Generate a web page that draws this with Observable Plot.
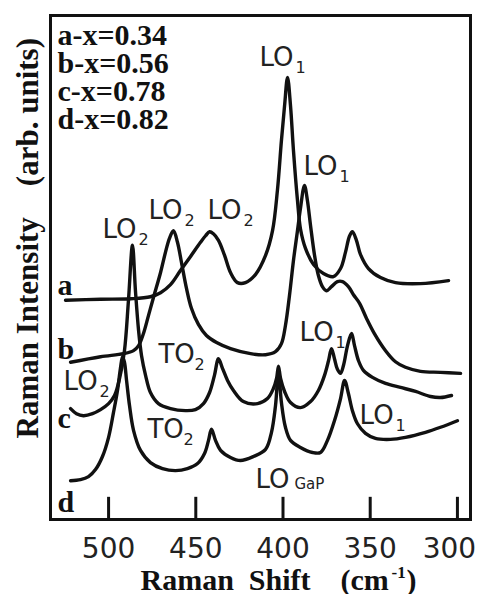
<!DOCTYPE html>
<html>
<head>
<meta charset="utf-8">
<script src="https://cdn.jsdelivr.net/npm/d3@7"></script>
<script src="https://cdn.jsdelivr.net/npm/@observablehq/plot@0.6"></script>
<style>
  html, body { margin: 0; padding: 0; background: #fff; }
  #chart { width: 482px; height: 594px; }
</style>
</head>
<body>
<div id="chart"></div>
<script>
// Raman shift (cm-1), intensity (arb. units) for each composition
const curveA = [[524.7,43.5],[504.6,43.7],[487.4,43.8],[476.0,44.2],[470.2,45.0],[464.5,46.6],[458.8,49.4],[453.0,52.2],[447.3,55.0],[444.4,56.3],[442.1,57.1],[439.9,56.7],[437.0,55.4],[433.5,52.4],[430.1,49.0],[426.1,47.0],[421.5,47.0],[415.8,48.6],[410.0,52.4],[406.0,57.3],[403.2,65.3],[400.9,75.2],[399.1,82.1],[397.4,87.7],[395.7,82.1],[394.0,73.2],[391.7,63.3],[390.0,57.7],[387.1,53.8],[382.5,50.6],[376.8,48.8],[371.1,48.2],[367.0,49.8],[364.2,53.0],[361.9,56.2],[360.2,57.1],[357.9,55.4],[355.6,52.6],[351.0,49.8],[344.1,48.0],[335.5,47.0],[321.2,46.8],[305.1,47.4]];
const curveB = [[521.8,31.2],[504.6,32.3],[491.4,32.9],[485.7,33.5],[482.8,34.5],[480.0,36.9],[477.1,40.5],[474.3,44.0],[470.2,49.0],[467.4,53.0],[465.1,55.8],[462.8,57.3],[460.5,55.0],[458.2,51.0],[455.3,45.8],[452.5,41.9],[448.5,38.7],[443.9,36.5],[438.1,35.1],[430.1,33.9],[418.6,32.9],[410.0,32.7],[404.3,33.3],[400.9,34.9],[398.6,38.5],[396.3,44.4],[394.0,51.4],[391.7,57.3],[390.0,61.7],[387.7,66.3],[386.0,63.3],[384.2,58.3],[381.9,52.4],[379.7,48.4],[377.4,46.2],[375.1,45.4],[372.2,46.2],[368.8,47.2],[365.9,47.2],[362.5,46.2],[359.6,44.6],[356.1,42.9],[352.1,39.9],[347.6,36.9],[341.2,33.5],[335.5,31.3],[329.8,30.2],[321.2,29.4],[309.7,29.2],[298.2,29.0]];
const curveC = [[521.8,22.0],[518.4,21.0],[514.4,20.6],[509.2,21.0],[504.6,21.8],[500.0,23.0],[496.6,24.6],[493.7,28.0],[490.9,33.5],[488.6,43.5],[486.3,54.4],[484.6,45.4],[482.8,37.5],[481.1,32.5],[478.8,28.6],[476.0,25.2],[471.4,23.0],[464.5,22.0],[455.9,21.6],[450.2,21.8],[445.6,23.0],[442.1,25.2],[439.3,28.6],[437.0,31.9],[434.7,30.0],[431.8,27.6],[428.4,25.6],[422.7,23.4],[414.6,23.0],[408.9,24.0],[405.5,26.0],[403.7,28.0],[402.6,30.4],[401.4,28.0],[399.1,25.4],[395.7,23.2],[390.0,22.2],[384.2,23.4],[379.7,25.6],[376.2,28.6],[373.9,31.5],[372.2,33.9],[370.5,31.9],[368.8,29.8],[367.0,29.0],[365.3,30.6],[363.0,34.5],[360.7,36.9],[359.0,34.5],[356.7,31.5],[353.9,29.6],[348.7,28.2],[341.2,27.0],[332.6,26.2],[324.0,25.4],[315.4,24.4],[309.7,24.2],[303.4,24.6]];
const curveD = [[521.8,7.7],[516.1,7.9],[511.5,8.5],[507.5,9.9],[503.5,12.5],[500.0,16.3],[497.2,21.2],[494.9,25.6],[493.2,30.0],[492.0,32.3],[490.9,31.2],[489.7,27.6],[488.0,22.6],[485.7,17.7],[481.7,13.7],[476.0,11.3],[469.1,10.1],[461.6,9.7],[454.8,10.1],[449.0,11.1],[445.0,13.1],[442.7,15.7],[441.0,17.9],[438.7,15.7],[435.8,13.7],[430.1,12.3],[424.4,11.7],[416.9,12.5],[410.0,13.9],[406.6,17.3],[404.3,22.6],[402.6,29.2],[400.9,23.2],[398.6,18.3],[395.7,15.7],[390.0,14.3],[383.1,13.3],[378.5,13.3],[374.5,15.7],[370.5,19.6],[367.0,24.0],[364.7,27.6],[362.5,25.0],[360.2,21.6],[357.3,19.0],[352.7,17.1],[347.0,16.1],[338.4,15.9],[329.8,16.3],[318.3,17.3],[309.7,18.3],[300.0,19.6]];

const xTicks = [500, 450, 400, 350, 300];
const legendLines = ["a-x=0.34", "b-x=0.56", "c-x=0.78", "d-x=0.82"];
const curveNames = ["a", "b", "c", "d"];
const curveNameLevels = [44.6, 31.9, 18.1, 1.4];
const curveNameShift = 529.3;

// peak assignments: anchor (shift, level), main text and subscript
const peakShifts = [413.5, 388.3, 503.5, 477.1, 443.3, 471.4, 477.7, 525.8, 390.5, 356.1, 415.8];
const peakLevels = [89.9, 68.3, 55.8, 59.7, 59.7, 31.0, 16.1, 25.6, 35.5, 19.0, 6.2];
const peakMain   = ["LO", "LO", "LO", "LO", "LO", "TO", "TO", "LO", "LO", "LO", "LO"];
const peakSub    = ["1", "1", "2", "2", "2", "2", "2", "2", "1", "1", "GaP"];

const peaks = peakShifts.map((s, i) => ({shift: s, level: peakLevels[i], main: peakMain[i], sub: peakSub[i]}));
const names = curveNames.map((n, i) => ({name: n, level: curveNameLevels[i], shift: curveNameShift}));

const SANS = "DejaVu Sans";
const SERIF = "Liberation Serif";
const INK = "#111";

const lineOpts = {x: d => d[0], y: d => d[1], stroke: INK, strokeWidth: 3.4, curve: "catmull-rom", strokeLinejoin: "round"};
const tickText = {x: d => d, text: d => String(d), frameAnchor: "bottom", dy: 38, lineAnchor: "bottom", fontSize: 28, fontFamily: SANS, fill: "#222"};

const chart = Plot.plot({
  width: 482,
  height: 594,
  marginLeft: 50,
  marginRight: 12,
  marginTop: 15,
  marginBottom: 75,
  x: {domain: [533.3, 292.5], axis: null},
  y: {domain: [0, 100], axis: null},
  marks: [
    Plot.line(curveA, lineOpts),
    Plot.line(curveB, lineOpts),
    Plot.line(curveC, lineOpts),
    Plot.line(curveD, lineOpts),
    Plot.ruleX(xTicks, {y1: 0, y2: 4.4, stroke: INK, strokeWidth: 3}),
    Plot.frame({stroke: INK, strokeWidth: 3}),
    // tick labels (last one pulled inward as in the original)
    Plot.text(xTicks.filter(t => t !== 300), tickText),
    Plot.text(xTicks.filter(t => t === 300), {...tickText, dx: -8}),
    // peak labels
    Plot.text(peaks, {x: "shift", y: "level", text: "main", textAnchor: "start", lineAnchor: "bottom", fontSize: 26, fontFamily: SANS, fill: "#222"}),
    Plot.text(peaks.filter(d => d.sub !== "GaP"), {x: "shift", y: "level", text: "sub", textAnchor: "start", lineAnchor: "bottom", dx: 36, dy: 7, fontSize: 16, fontFamily: SANS, fill: "#222"}),
    Plot.text(peaks.filter(d => d.sub === "GaP"), {x: "shift", y: "level", text: "sub", textAnchor: "start", lineAnchor: "bottom", dx: 39, dy: 1, fontSize: 15, fontFamily: SANS, fill: "#222"}),
    // curve names
    Plot.text(names, {x: "shift", y: "level", text: "name", textAnchor: "start", lineAnchor: "bottom", fontSize: 30, fontWeight: "bold", fontFamily: SERIF, fill: INK}),
    // legend
    Plot.text([legendLines.join("\n")], {frameAnchor: "top-left", dx: 7, dy: 10, textAnchor: "start", lineAnchor: "top", lineHeight: 0.93, fontSize: 30, fontWeight: "bold", fontFamily: SERIF, fill: INK}),
    // x axis title
    Plot.text(["Raman\u00a0\u00a0Shift\u00a0\u00a0\u00a0\u00a0(cm"], {frameAnchor: "bottom-left", dx: 90, dy: 70, textAnchor: "start", lineAnchor: "bottom", fontSize: 30, fontWeight: "bold", fontFamily: SERIF, fill: INK}),
    Plot.text(["-1"], {frameAnchor: "bottom-left", dx: 341, dy: 58, textAnchor: "start", lineAnchor: "bottom", fontSize: 17, fontWeight: "bold", fontFamily: SERIF, fill: INK}),
    Plot.text([")"], {frameAnchor: "bottom-left", dx: 356, dy: 70, textAnchor: "start", lineAnchor: "bottom", fontSize: 30, fontWeight: "bold", fontFamily: SERIF, fill: INK}),
    // y axis title
    Plot.text(["Raman Intensity\u00a0\u00a0\u00a0\u00a0(arb. units)"], {frameAnchor: "top-left", dx: -22, dy: 423, rotate: -90, textAnchor: "start", lineAnchor: "middle", fontSize: 31, fontWeight: "bold", fontFamily: SERIF, fill: INK})
  ]
});
document.getElementById("chart").appendChild(chart);
</script>
</body>
</html>
